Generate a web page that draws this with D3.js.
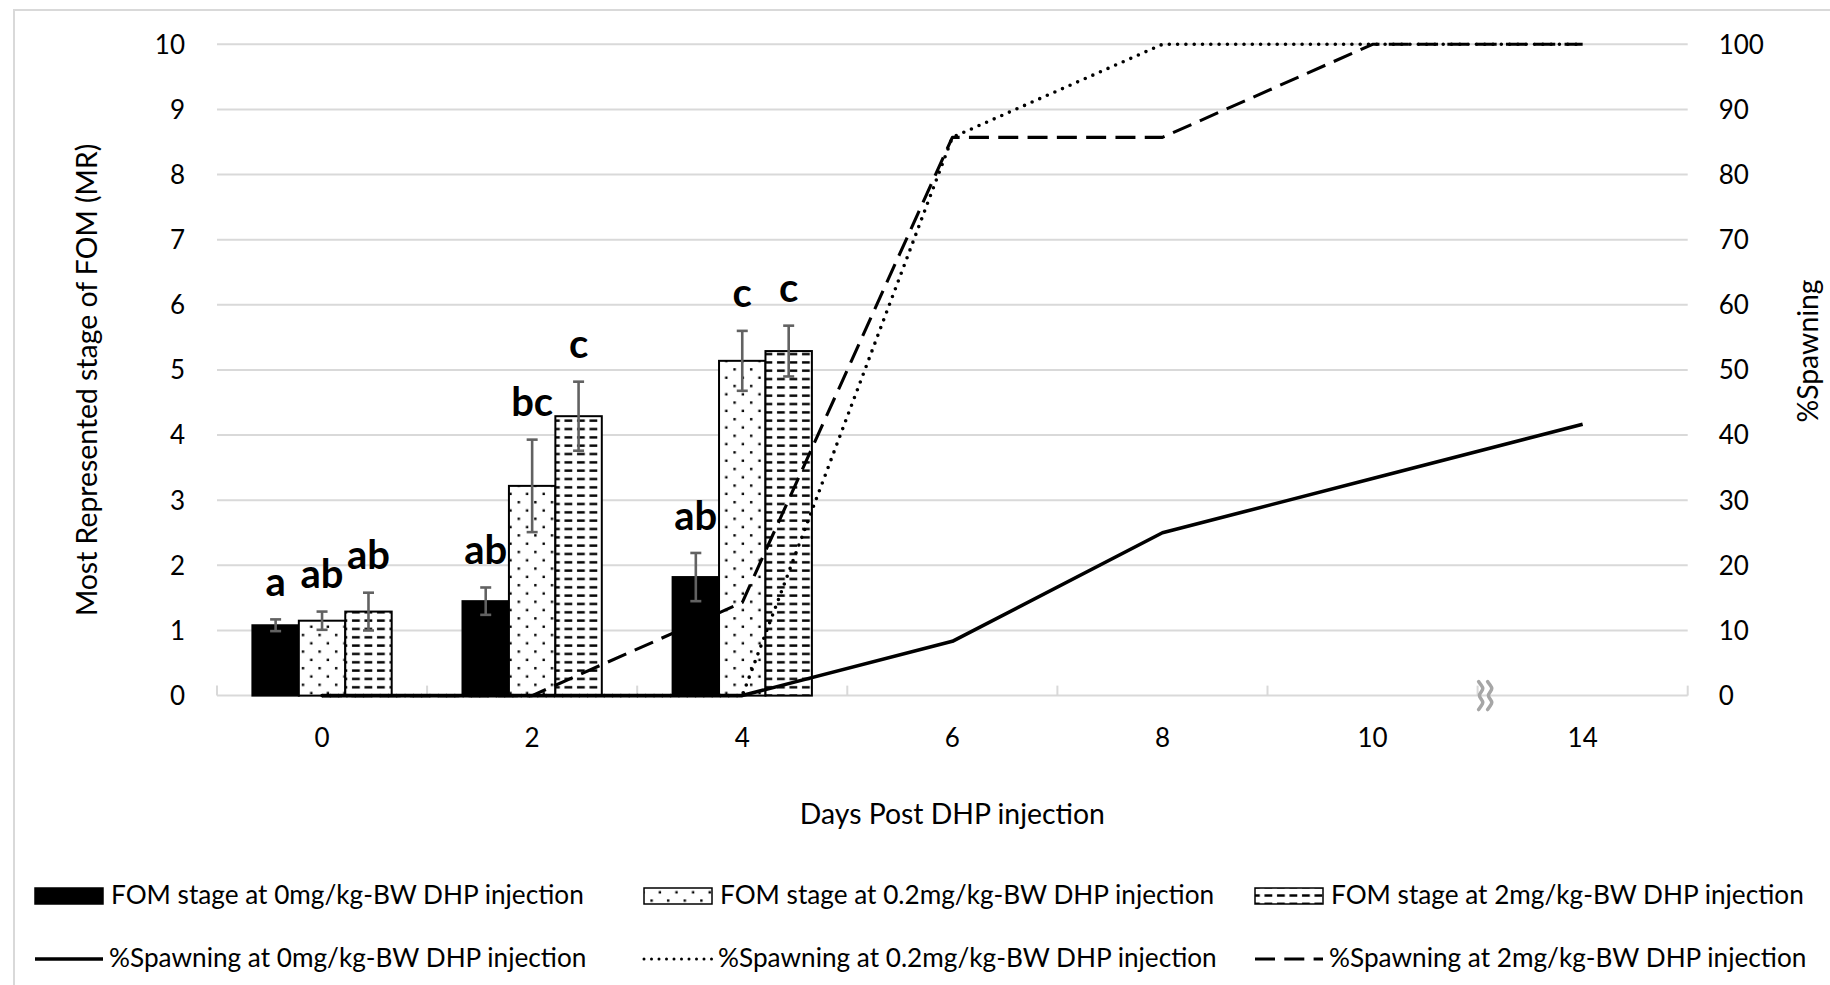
<!DOCTYPE html>
<html><head><meta charset="utf-8">
<script src="https://cdn.jsdelivr.net/npm/d3@7"></script>
<style>body{margin:0;background:#fff} svg{display:block}</style>
</head><body>
<svg id="chart" width="1830" height="985"></svg>
<script>
// ---------- data ----------
const days = ["0", "2", "4", "6", "8", "10", "14"];
const barDays = ["0", "2", "4"];
const doses = ["0", "0.2", "2"];
const fom0 = [1.08, 1.45, 1.82];
const fom02 = [1.15, 3.22, 5.14];
const fom2 = [1.29, 4.29, 5.29];
const err0 = [0.09, 0.21, 0.37];
const err02 = [0.14, 0.71, 0.46];
const err2 = [0.29, 0.53, 0.39];
const letters0 = ["a", "ab", "ab"];
const letters02 = ["ab", "bc", "c"];
const letters2 = ["ab", "c", "c"];
const spawn0 = [0, 0, 0, 8.33, 25, 33.33, 41.67];
const spawn02 = [0, 0, 0, 85.71, 100, 100, 100];
const spawn2 = [0, 0, 14.29, 85.71, 85.71, 100, 100];
const leftTicks = [0, 1, 2, 3, 4, 5, 6, 7, 8, 9, 10];
const rightTicks = [0, 10, 20, 30, 40, 50, 60, 70, 80, 90, 100];
const xTitle = "Days Post DHP injection";
const yTitle = "Most Represented stage of FOM (MR)";
const y2Title = "%Spawning";
const barLegend = ["FOM stage at 0mg/kg-BW DHP injection", "FOM stage at 0.2mg/kg-BW DHP injection", "FOM stage at 2mg/kg-BW DHP injection"];
const lineLegend = ["%Spawning at 0mg/kg-BW DHP injection", "%Spawning at 0.2mg/kg-BW DHP injection", "%Spawning at 2mg/kg-BW DHP injection"];

// ---------- layout ----------
const L = 217, R = 1687.7, T = 44.3, B = 695.6;
const FONT = "Lato, 'Open Sans', sans-serif";
const svg = d3.select("#chart");

// chart border
svg.append("rect").attr("x", 14).attr("y", 10).attr("width", 1840).attr("height", 1000)
  .attr("fill", "none").attr("stroke", "#d9d9d9").attr("stroke-width", 2);

const x = d3.scaleBand().domain(days).range([L, R]).padding(0);
const y = d3.scaleLinear().domain([0, 10]).range([B, T]);
const y2 = d3.scaleLinear().domain([0, 100]).range([B, T]);
const bw = x.bandwidth() * 0.221;
const xs = d3.scaleBand().domain(doses).range([-1.5 * bw, 1.5 * bw]).padding(0);

// patterns
const defs = svg.append("defs");
const pd = defs.append("pattern").attr("id", "dots").attr("patternUnits", "userSpaceOnUse")
  .attr("width", 16.6).attr("height", 16.6);
pd.append("rect").attr("width", 16.6).attr("height", 16.6).attr("fill", "#fff");
pd.append("rect").attr("x", 3).attr("y", 3).attr("width", 2.4).attr("height", 2.4).attr("fill", "#000");
pd.append("rect").attr("x", 11.3).attr("y", 11.3).attr("width", 2.4).attr("height", 2.4).attr("fill", "#000");
const ph = defs.append("pattern").attr("id", "hdash").attr("patternUnits", "userSpaceOnUse")
  .attr("width", 12.5).attr("height", 8.33);
ph.append("rect").attr("width", 12.5).attr("height", 8.33).attr("fill", "#fff");
ph.append("rect").attr("x", 2).attr("y", 3).attr("width", 7.8).attr("height", 2.4).attr("fill", "#000");
const fills = ["#000", "url(#dots)", "url(#hdash)"];

// gridlines (left axis)
svg.append("g").selectAll("line").data(leftTicks).join("line")
  .attr("x1", L).attr("x2", R).attr("y1", d => y(d)).attr("y2", d => y(d))
  .attr("stroke", "#d9d9d9").attr("stroke-width", 2);

// x-axis tick marks at category boundaries
const bounds = days.map(d => x(d)).concat([x(days[days.length - 1]) + x.bandwidth()]);
svg.append("g").selectAll("line").data(bounds).join("line")
  .attr("x1", d => d).attr("x2", d => d).attr("y1", B).attr("y2", B - 10)
  .attr("stroke", "#d9d9d9").attr("stroke-width", 2);

// left axis labels
svg.append("g").selectAll("text").data(leftTicks).join("text")
  .attr("x", L - 32).attr("y", d => y(d)).attr("dy", "0.36em")
  .attr("text-anchor", "end").attr("font-family", FONT).attr("font-size", 26).attr("fill", "#000")
  .text(d => d);
// right axis labels
svg.append("g").selectAll("text").data(rightTicks).join("text")
  .attr("x", R + 31).attr("y", d => y2(d)).attr("dy", "0.36em")
  .attr("text-anchor", "start").attr("font-family", FONT).attr("font-size", 26).attr("fill", "#000")
  .text(d => d);
// x labels
svg.append("g").selectAll("text").data(days).join("text")
  .attr("x", d => x(d) + x.bandwidth() / 2).attr("y", 747)
  .attr("text-anchor", "middle").attr("font-family", FONT).attr("font-size", 26).attr("fill", "#000")
  .text(d => d);

// bars
const barData = [];
barDays.forEach((d, i) => {
  [[fom0, err0, letters0], [fom02, err02, letters02], [fom2, err2, letters2]].forEach((s, k) => {
    barData.push({ day: d, dose: doses[k], k, v: s[0][i], e: s[1][i], lab: s[2][i] });
  });
});
const cx = b => x(b.day) + x.bandwidth() / 2 + xs(b.dose);
svg.append("g").selectAll("rect").data(barData).join("rect")
  .attr("x", b => cx(b)).attr("y", b => y(b.v)).attr("width", xs.bandwidth())
  .attr("height", b => y(0) - y(b.v)).attr("fill", b => fills[b.k])
  .attr("stroke", "#000").attr("stroke-width", 2);

// error bars
const eg = svg.append("g").attr("stroke", "#626262").attr("stroke-width", 2.6);
barData.forEach(b => {
  const m = cx(b) + xs.bandwidth() / 2;
  eg.append("line").attr("x1", m).attr("x2", m).attr("y1", y(b.v + b.e)).attr("y2", y(b.v - b.e));
  eg.append("line").attr("x1", m - 5.5).attr("x2", m + 5.5).attr("y1", y(b.v + b.e)).attr("y2", y(b.v + b.e));
  eg.append("line").attr("x1", m - 5.5).attr("x2", m + 5.5).attr("y1", y(b.v - b.e)).attr("y2", y(b.v - b.e));
});

// spawning lines
const lineStyles = [
  { data: spawn0, dash: null, cap: "butt", w: 3.6 },
  { data: spawn02, dash: "0,8.3", cap: "round", w: 3.6 },
  { data: spawn2, dash: "20,9.3", cap: "butt", w: 3.1 }
];
const lineGen = d3.line().x((v, i) => x(days[i]) + x.bandwidth() / 2).y(v => y2(v));
lineStyles.forEach(s => {
  svg.append("path").datum(s.data).attr("d", lineGen).attr("fill", "none")
    .attr("stroke", "#000").attr("stroke-width", s.w).attr("stroke-linecap", s.cap)
    .attr("stroke-linejoin", "round").attr("stroke-dasharray", s.dash);
});

// significance letters
svg.append("g").selectAll("text").data(barData).join("text")
  .attr("x", b => cx(b) + xs.bandwidth() / 2).attr("y", b => y(b.v + b.e + 0.36))
  .attr("text-anchor", "middle").attr("font-family", FONT).attr("font-weight", "bold")
  .attr("font-size", 40).attr("fill", "#000").text(b => b.lab);

// axis break symbol between 10 and 14
const brk = x("14") + 8;
const wave = d3.line().curve(d3.curveBasis);
[-4.5, 4.5].forEach(dx => {
  const pts = d3.range(0, 9).map(i => [brk + dx + (i % 2 === 0 ? (i % 4 === 0 ? -2.5 : 2.5) : 0), B - 14 + i * 3.5]);
  svg.append("path").attr("d", wave(pts)).attr("fill", "none")
    .attr("stroke", "#a6a6a6").attr("stroke-width", 3.5).attr("stroke-linecap", "round");
});

// axis titles
const xt = svg.append("text").attr("x", (L + R) / 2).attr("y", 824).attr("text-anchor", "middle")
  .attr("font-family", FONT).attr("font-size", 28).attr("fill", "#000").text(xTitle);
const fsTitle = 28 * 305 / xt.node().getComputedTextLength();
xt.attr("font-size", fsTitle);
svg.append("text").attr("transform", `translate(97,${(T + B) / 2 + 10}) rotate(-90)`)
  .attr("text-anchor", "middle").attr("font-family", FONT).attr("font-size", fsTitle).attr("fill", "#000")
  .text(yTitle);
svg.append("text").attr("transform", `translate(1818,351) rotate(-90)`)
  .attr("text-anchor", "middle").attr("font-family", FONT).attr("font-size", fsTitle).attr("fill", "#000")
  .text(y2Title);

// legend
const colX = [35, 644, 1255];
const swW = 68;
const lg = svg.append("g");
const probe = lg.append("text").attr("font-family", FONT).attr("font-size", 28).text(barLegend[0]);
const fsLeg = 28 * 473 / probe.node().getComputedTextLength();
probe.remove();
barLegend.forEach((t, k) => {
  lg.append("rect").attr("x", colX[k]).attr("y", 888).attr("width", swW).attr("height", 16)
    .attr("fill", fills[k]).attr("stroke", "#000").attr("stroke-width", 1.5);
  lg.append("text").attr("x", colX[k] + swW + 8).attr("y", 904).attr("font-family", FONT)
    .attr("font-size", fsLeg).attr("fill", "#000").text(t);
});
lineLegend.forEach((t, k) => {
  const s = lineStyles[k];
  lg.append("line").attr("x1", colX[k]).attr("x2", colX[k] + swW).attr("y1", 959).attr("y2", 959)
    .attr("stroke", "#000").attr("stroke-width", k === 1 ? 3 : s.w).attr("stroke-linecap", s.cap)
    .attr("stroke-dasharray", s.dash ? (k === 1 ? "0,7.5" : s.dash) : null);
  lg.append("text").attr("x", colX[k] + swW + 6).attr("y", 967).attr("font-family", FONT)
    .attr("font-size", fsLeg).attr("fill", "#000").text(t);
});
</script>
</body></html>
